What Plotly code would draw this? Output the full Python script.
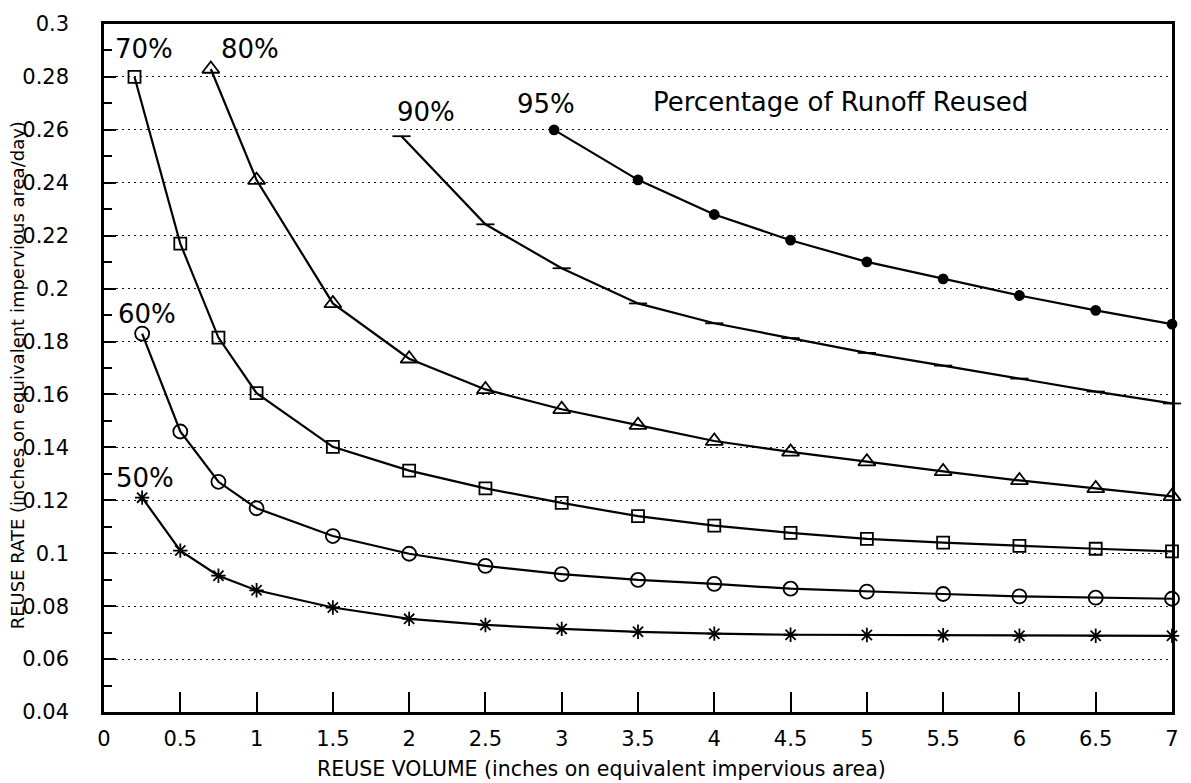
import plotly.graph_objects as go

# ---- data ----
x50 = [0.25, 0.5, 0.75, 1, 1.5, 2, 2.5, 3, 3.5, 4, 4.5, 5, 5.5, 6, 6.5, 7]
y50 = [0.121, 0.101, 0.0915, 0.086, 0.0795, 0.0752, 0.0729, 0.0714, 0.0703, 0.0696, 0.0692, 0.0691, 0.069, 0.0688, 0.0688, 0.0688]

x60 = [0.25, 0.5, 0.75, 1, 1.5, 2, 2.5, 3, 3.5, 4, 4.5, 5, 5.5, 6, 6.5, 7]
y60 = [0.183, 0.146, 0.127, 0.117, 0.1065, 0.0998, 0.0952, 0.0921, 0.0899, 0.0884, 0.0866, 0.0855, 0.0846, 0.0837, 0.0832, 0.0828]

x70 = [0.2, 0.5, 0.75, 1, 1.5, 2, 2.5, 3, 3.5, 4, 4.5, 5, 5.5, 6, 6.5, 7]
y70 = [0.28, 0.217, 0.1815, 0.1605, 0.1402, 0.1312, 0.1245, 0.119, 0.114, 0.1104, 0.1077, 0.1054, 0.104, 0.1028, 0.1017, 0.1007]

x80 = [0.7, 1, 1.5, 2, 2.5, 3, 3.5, 4, 4.5, 5, 5.5, 6, 6.5, 7]
y80 = [0.283, 0.241, 0.1944, 0.1735, 0.1619, 0.1544, 0.1484, 0.1424, 0.1383, 0.1346, 0.1309, 0.1275, 0.1245, 0.1215]

x90 = [1.95, 2.5, 3, 3.5, 4, 4.5, 5, 5.5, 6, 6.5, 7]
y90 = [0.2576, 0.2243, 0.2077, 0.1944, 0.1869, 0.1813, 0.1757, 0.1709, 0.1660, 0.1611, 0.1566]

x95 = [2.95, 3.5, 4, 4.5, 5, 5.5, 6, 6.5, 7]
y95 = [0.2600, 0.2411, 0.2280, 0.2183, 0.2101, 0.2037, 0.1974, 0.1918, 0.1866]

series_names = ["50%", "60%", "70%", "80%", "90%", "95%"]
x_ticks = [0, 0.5, 1, 1.5, 2, 2.5, 3, 3.5, 4, 4.5, 5, 5.5, 6, 6.5, 7]
x_ticklabels = ["0", "0.5", "1", "1.5", "2", "2.5", "3", "3.5", "4", "4.5", "5", "5.5", "6", "6.5", "7"]
y_ticks = [0.04, 0.06, 0.08, 0.1, 0.12, 0.14, 0.16, 0.18, 0.2, 0.22, 0.24, 0.26, 0.28, 0.3]
y_ticklabels = ["0.04", "0.06", "0.08", "0.1", "0.12", "0.14", "0.16", "0.18", "0.2", "0.22", "0.24", "0.26", "0.28", "0.3"]

FONT = "DejaVu Sans, Arial, sans-serif"

fig = go.Figure()

styles = [
    (x50, y50, "asterisk-open", 12),
    (x60, y60, "circle-open", 14),
    (x70, y70, "square-open", 12),
    (x80, y80, "triangle-up-open", 15),
    (x90, y90, "line-ew-open", 13),
    (x95, y95, "circle", 9),
]
for (xs, ys, sym, sz), nm in zip(styles, series_names):
    fig.add_trace(go.Scatter(
        x=xs, y=ys, mode="lines+markers", name=nm,
        line=dict(color="black", width=2.2),
        marker=dict(symbol=sym, size=sz, color="black",
                    line=dict(color="black", width=1.8)),
        showlegend=False, cliponaxis=False,
    ))

# labels
labels = [
    ("70%", 0.26, 0.2905),
    ("80%", 0.96, 0.2905),
    ("90%", 2.11, 0.2668),
    ("95%", 2.9, 0.2698),
    ("60%", 0.28, 0.1905),
    ("50%", 0.27, 0.1285),
]
for t, xx, yy in labels:
    fig.add_annotation(x=xx, y=yy, text=t, showarrow=False,
                       font=dict(family=FONT, size=26, color="black"))
fig.add_annotation(x=4.83, y=0.2705, text="Percentage of Runoff Reused", showarrow=False,
                   font=dict(family=FONT, size=26, color="black"))

# axis titles
fig.add_annotation(xref="paper", yref="paper", x=0.466, y=-0.083, yanchor="middle",
                   text="REUSE VOLUME (inches on equivalent impervious area)", showarrow=False,
                   font=dict(family=FONT, size=20.5, color="black"))
fig.add_annotation(xref="paper", yref="paper", x=-0.081, y=0.49, xanchor="center", yanchor="middle",
                   text="REUSE RATE (inches on equivalent impervious area/day)", showarrow=False,
                   textangle=-90, font=dict(family=FONT, size=18, color="black"))

fig.update_xaxes(
    range=[0, 7], tickvals=x_ticks, ticktext=x_ticklabels,
    ticks="inside", ticklen=20, tickwidth=1.5, tickcolor="black",
    showline=True, linecolor="black", linewidth=2.5, mirror=True,
    showgrid=False, zeroline=False, ticklabelstandoff=6,
    tickfont=dict(family=FONT, size=21, color="black"),
)
fig.update_yaxes(
    range=[0.04, 0.3], tickvals=y_ticks, ticktext=y_ticklabels,
    ticks="inside", ticklen=12, tickwidth=2, tickcolor="black",
    minor=dict(dtick=0.01, tick0=0.04, ticks="inside", ticklen=8, tickwidth=1.5, tickcolor="black", showgrid=False),
    showline=True, linecolor="black", linewidth=2.5, mirror=True,
    showgrid=True, gridcolor="#111", gridwidth=1, griddash="2px,4px",
    zeroline=False, ticklabelstandoff=28,
    tickfont=dict(family=FONT, size=21, color="black"),
)

fig.update_layout(
    width=1191, height=783,
    margin=dict(l=104, r=17, t=16, b=71),
    paper_bgcolor="white", plot_bgcolor="white",
)

fig.write_html("out.html")
